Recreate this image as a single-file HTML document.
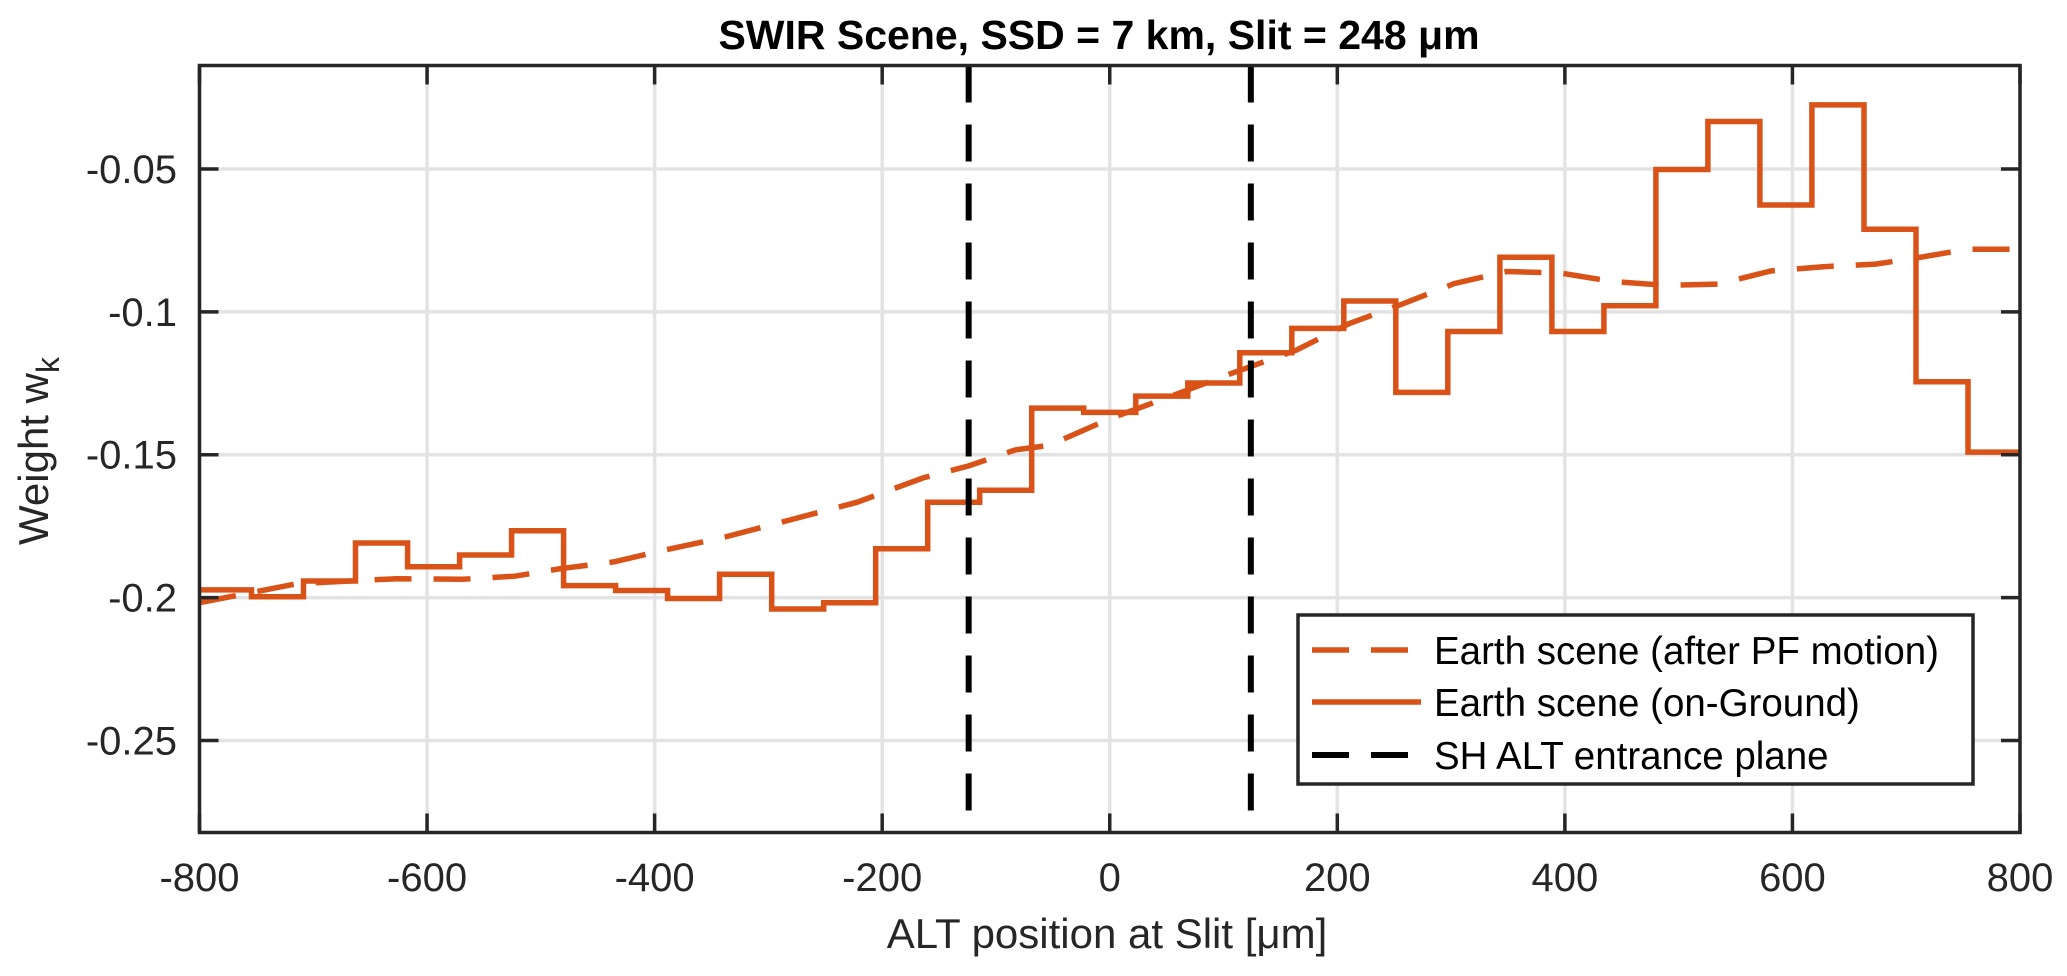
<!DOCTYPE html>
<html><head><meta charset="utf-8"><style>
html,body{margin:0;padding:0;background:#fff}
svg{display:block;font-family:"Liberation Sans",Arial,sans-serif}
</style></head><body>
<svg id="chart" width="2067" height="976" viewBox="0 0 2067 976">
<rect x="0" y="0" width="2067" height="976" fill="#fff"/>
<g id="grid"></g>
<g id="series"></g>
<g id="axes"></g>
<text x="1099" y="49" text-anchor="middle" font-size="41" font-weight="bold" fill="#000">SWIR Scene, SSD = 7 km, Slit = 248 μm</text>
<text x="1107" y="948" text-anchor="middle" font-size="42" fill="#262626">ALT position at Slit [μm]</text>
<text transform="translate(48,451) rotate(-90)" text-anchor="middle" font-size="42" fill="#262626">Weight w<tspan font-size="32" dy="11">k</tspan></text>
<g>
<rect x="1298" y="615" width="675" height="169" fill="#fff" stroke="#262626" stroke-width="3.5"/>
<line x1="1312" y1="650" x2="1421" y2="650" stroke="#D95319" stroke-width="5.5" stroke-dasharray="37,22"/>
<text x="1434" y="664" font-size="38.5" fill="#000">Earth scene (after PF motion)</text>
<line x1="1312" y1="702" x2="1421" y2="702" stroke="#D95319" stroke-width="5.5"/>
<text x="1434" y="716" font-size="38.5" fill="#000">Earth scene (on-Ground)</text>
<line x1="1312" y1="755" x2="1421" y2="755" stroke="#000" stroke-width="6" stroke-dasharray="37,22"/>
<text x="1434" y="769" font-size="38.5" fill="#000">SH ALT entrance plane</text>
</g>
</svg>
<script>
const xTicks = [-800,-600,-400,-200,0,200,400,600,800];
const yTicks = [-0.05,-0.1,-0.15,-0.2,-0.25];
const yTickLabels = ["-0.05","-0.1","-0.15","-0.2","-0.25"];
const binMin = -800, binMax = 800;
const groundValues = [-0.1973,-0.1997,-0.1942,-0.1809,-0.1892,-0.1851,-0.1766,-0.1958,-0.1975,-0.2003,-0.1918,-0.2040,-0.2018,-0.1829,-0.1666,-0.1624,-0.1337,-0.1352,-0.1295,-0.1249,-0.1143,-0.1058,-0.0962,-0.1282,-0.1069,-0.0809,-0.1069,-0.0979,-0.0502,-0.0334,-0.0626,-0.0276,-0.0711,-0.1245,-0.1491];
const pfX = [-800,-714,-627,-569,-523,-483,-436,-396,-338,-280,-222,-164,-124,-83,-53,0,48,106,164,210,257,303,349,396,442,488,535,581,627,673,708,754,800];
const pfY = [-0.2018,-0.1951,-0.1934,-0.1936,-0.1925,-0.1899,-0.1875,-0.1838,-0.1788,-0.1727,-0.1666,-0.1581,-0.1539,-0.1483,-0.1467,-0.1374,-0.1304,-0.1217,-0.1134,-0.1042,-0.0973,-0.0901,-0.0859,-0.0864,-0.0894,-0.0907,-0.0903,-0.0857,-0.0842,-0.0833,-0.0812,-0.0781,-0.0781];
const slitEdges = [-124,124];

const L=199.5,R=2020,T=65.5,B=832.5;
const xMin=-800,xMax=800,yMin=-0.2822,yMax=-0.0138;
const sx=v=>L+(v-xMin)/(xMax-xMin)*(R-L);
const sy=v=>B-(v-yMin)/(yMax-yMin)*(B-T);
const NS="http://www.w3.org/2000/svg";
function mk(tag,attrs,parent){const e=document.createElementNS(NS,tag);for(const k in attrs)e.setAttribute(k,attrs[k]);parent.appendChild(e);return e;}
const grid=document.getElementById('grid'),series=document.getElementById('series'),axes=document.getElementById('axes');

xTicks.forEach(t=>{
  const g=mk('line',{x1:sx(t),x2:sx(t),y1:T,y2:B,stroke:'#e3e3e3','stroke-width':3.5},grid);
  
  
  [[B,B-19],[T,T+19]].forEach(p=>{const tk=mk('line',{x1:sx(t),x2:sx(t),y1:p[0],y2:p[1],stroke:'#262626','stroke-width':3.5},axes);
  
  });
  const lb=mk('text',{x:sx(t),y:891,'text-anchor':'middle','font-size':40,fill:'#262626'},axes);
  lb.textContent=String(t);
  
  
});
yTicks.forEach((t,i)=>{
  const g=mk('line',{x1:L,x2:R,y1:sy(t),y2:sy(t),stroke:'#e3e3e3','stroke-width':3.5},grid);
  
  
  [[L,L+19],[R,R-19]].forEach(p=>{const tk=mk('line',{x1:p[0],x2:p[1],y1:sy(t),y2:sy(t),stroke:'#262626','stroke-width':3.5},axes);
  
  });
  const lb=mk('text',{x:177,y:sy(t)+14,'text-anchor':'end','font-size':40,fill:'#262626'},axes);
  lb.textContent=yTickLabels[i];
  
  
});
const frame=mk('rect',{x:L,y:T,width:R-L,height:B-T,fill:'none',stroke:'#262626','stroke-width':3.5},axes);



let d='';pfX.forEach((x,i)=>{d+=(i?'L':'M')+sx(x).toFixed(1)+','+sy(pfY[i]).toFixed(1);});
const pf=mk('path',{d:d,fill:'none',stroke:'#D95319','stroke-width':5.5,'stroke-dasharray':'37,22'},series);



const n=groundValues.length,w=(binMax-binMin)/n;
let s='';groundValues.forEach((v,i)=>{const x0=binMin+i*w,x1=x0+w;s+=(i?'L':'M')+sx(x0).toFixed(1)+','+sy(v).toFixed(1)+'L'+sx(x1).toFixed(1)+','+sy(v).toFixed(1);});
const gr=mk('path',{d:s,fill:'none',stroke:'#D95319','stroke-width':5.5},series);



slitEdges.forEach(x=>{
  const v=mk('line',{x1:sx(x),x2:sx(x),y1:T,y2:B,stroke:'#000','stroke-width':6,'stroke-dasharray':'37,22'},series);
  
  
});
</script>
</body></html>
